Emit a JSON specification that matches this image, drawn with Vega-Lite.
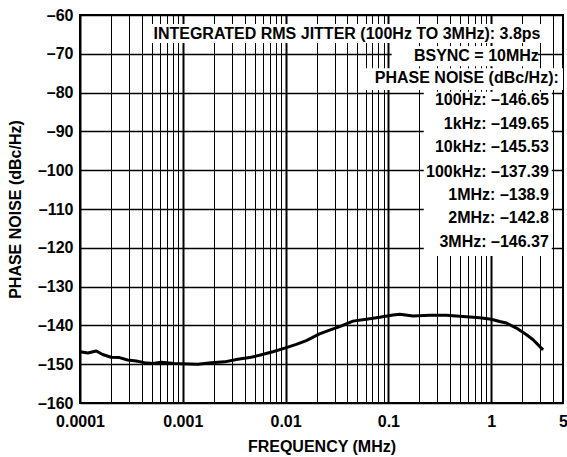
{
  "$schema": "https://vega.github.io/schema/vega-lite/v6.json",
  "width": 483,
  "height": 388,
  "autosize": {"type": "none"},
  "padding": {"left": 80, "top": 15, "right": 4, "bottom": 54},
  "background": "white",
  "config": {
    "font": "Liberation Sans",
    "view": {"stroke": "black", "strokeWidth": 2},
    "axis": {
      "labelFont": "Liberation Sans", "labelFontWeight": "bold", "labelFontSize": 16, "labelColor": "black",
      "titleFont": "Liberation Sans", "titleFontWeight": "bold", "titleFontSize": 16, "titleColor": "black",
      "domain": false, "ticks": false, "gridColor": "black", "gridOpacity": 1
    }
  },
  "datasets": {
    "curve": [
      {"f": 0.0001, "dB": -146.8}, {"f": 0.000119, "dB": -147.1}, {"f": 0.000144, "dB": -146.6},
      {"f": 0.000166, "dB": -147.5}, {"f": 0.000201, "dB": -148.2}, {"f": 0.000242, "dB": -148.3},
      {"f": 0.000291, "dB": -148.9}, {"f": 0.000352, "dB": -149.2}, {"f": 0.000424, "dB": -149.6},
      {"f": 0.00051, "dB": -149.8}, {"f": 0.000616, "dB": -149.5}, {"f": 0.00083, "dB": -149.8},
      {"f": 0.001, "dB": -149.9}, {"f": 0.0014, "dB": -150.0}, {"f": 0.00189, "dB": -149.6},
      {"f": 0.00255, "dB": -149.4}, {"f": 0.00343, "dB": -148.7}, {"f": 0.00446, "dB": -148.3},
      {"f": 0.00558, "dB": -147.7}, {"f": 0.00752, "dB": -146.8}, {"f": 0.01, "dB": -145.8},
      {"f": 0.0127, "dB": -144.9}, {"f": 0.0159, "dB": -143.9}, {"f": 0.0214, "dB": -142.2},
      {"f": 0.0268, "dB": -141.2}, {"f": 0.0336, "dB": -140.3}, {"f": 0.0452, "dB": -138.9},
      {"f": 0.0611, "dB": -138.4}, {"f": 0.0823, "dB": -137.9}, {"f": 0.111, "dB": -137.3},
      {"f": 0.129, "dB": -137.1}, {"f": 0.174, "dB": -137.6}, {"f": 0.252, "dB": -137.4},
      {"f": 0.367, "dB": -137.4}, {"f": 0.532, "dB": -137.7}, {"f": 0.774, "dB": -138.0},
      {"f": 1.0, "dB": -138.4}, {"f": 1.21, "dB": -139.0}, {"f": 1.41, "dB": -139.4},
      {"f": 1.76, "dB": -140.7}, {"f": 2.21, "dB": -142.4}, {"f": 2.56, "dB": -143.7},
      {"f": 3.2, "dB": -146.3}
    ],
    "boxes": [
      {"f": 0.000433, "f2": 3.4, "dB": -62.3, "dB2": -67.2},
      {"f": 0.1077, "f2": 2.84, "dB": -68.0, "dB2": -73.2},
      {"f": 0.0562, "f2": 5, "dB": -73.7, "dB2": -79.3},
      {"f": 0.221, "f2": 3.89, "dB": -79.8, "dB2": -122.1}
    ],
    "notes": [
      {"f": 3.02, "dB": -64.9, "label": "INTEGRATED RMS JITTER (100Hz TO 3MHz): 3.8ps"},
      {"f": 2.91, "dB": -70.6, "label": "BSYNC = 10MHz"},
      {"f": 4.55, "dB": -76.2, "label": "PHASE NOISE (dBc/Hz):"},
      {"f": 3.64, "dB": -82.0, "label": "100Hz: –146.65"},
      {"f": 3.64, "dB": -88.1, "label": "1kHz: –149.65"},
      {"f": 3.64, "dB": -94.1, "label": "10kHz: –145.53"},
      {"f": 3.64, "dB": -100.5, "label": "100kHz: –137.39"},
      {"f": 3.64, "dB": -106.3, "label": "1MHz: –138.9"},
      {"f": 3.64, "dB": -112.3, "label": "2MHz: –142.8"},
      {"f": 3.64, "dB": -118.6, "label": "3MHz: –146.37"}
    ]
  },
  "encoding": {
    "x": {
      "field": "f", "type": "quantitative",
      "scale": {"type": "log", "domain": [0.0001, 5], "nice": false},
      "axis": {
        "title": "FREQUENCY (MHz)",
        "values": [0.0001, 0.0002, 0.0003, 0.0004, 0.0005, 0.0006, 0.0007, 0.0008, 0.0009,
                   0.001, 0.002, 0.003, 0.004, 0.005, 0.006, 0.007, 0.008, 0.009,
                   0.01, 0.02, 0.03, 0.04, 0.05, 0.06, 0.07, 0.08, 0.09,
                   0.1, 0.2, 0.3, 0.4, 0.5, 0.6, 0.7, 0.8, 0.9,
                   1, 2, 3, 4, 5],
        "labelExpr": "datum.value == 5 ? '5' : datum.value == 1 ? '1' : datum.value == 0.1 ? '0.1' : datum.value == 0.01 ? '0.01' : datum.value == 0.001 ? '0.001' : datum.value == 0.0001 ? '0.0001' : ''",
        "labelOverlap": false,
        "labelFlush": false,
        "labelPadding": 10,
        "titlePadding": 9,
        "gridWidth": {"condition": {"test": "indexof([0.0001, 0.001, 0.01, 0.1, 1], datum.value) >= 0", "value": 2}, "value": 1}
      }
    },
    "y": {
      "field": "dB", "type": "quantitative",
      "scale": {"domain": [-160, -60], "nice": false},
      "axis": {
        "title": "PHASE NOISE (dBc/Hz)",
        "values": [-160, -150, -140, -130, -120, -110, -100, -90, -80, -70, -60],
        "labelExpr": "datum.value < 0 ? '–' + abs(datum.value) : '' + datum.value",
        "labelPadding": 7,
        "titlePadding": 14,
        "gridWidth": 1.5
      }
    }
  },
  "layer": [
    {
      "data": {"name": "boxes"},
      "mark": {"type": "rect", "fill": "white", "stroke": null},
      "encoding": {"x2": {"field": "f2"}, "y2": {"field": "dB2"}}
    },
    {
      "data": {"name": "curve"},
      "mark": {"type": "line", "color": "black", "strokeWidth": 3, "strokeJoin": "round"},
      "encoding": {}
    },
    {
      "data": {"name": "notes"},
      "mark": {"type": "text", "align": "right", "baseline": "middle", "font": "Liberation Sans", "fontSize": 16, "fontWeight": "bold", "color": "black"},
      "encoding": {"text": {"field": "label"}}
    }
  ]
}
